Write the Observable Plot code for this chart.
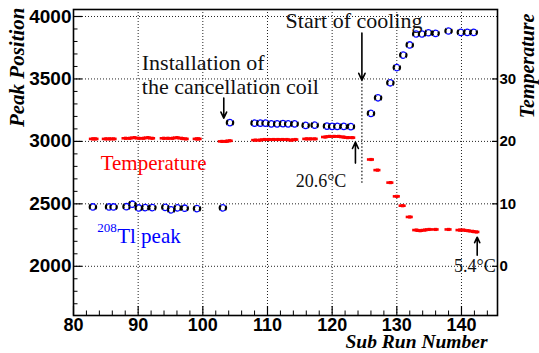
<!DOCTYPE html>
<html><head><meta charset="utf-8">
<script src="https://cdn.jsdelivr.net/npm/d3@7"></script>
<script src="https://cdn.jsdelivr.net/npm/@observablehq/plot@0.6"></script>
<style>body{margin:0;background:#fff}</style>
</head><body><div id="chart"></div>
<script>
// ---- data ----
const tlRuns = [83.0, 85.5, 86.2, 88.2, 89.1, 90.1, 91.1, 92.2, 94.2, 95.1, 96.1, 97.2, 99.1, 103.1,
  104.2, 108.0, 108.9, 109.7, 110.6, 111.5, 112.4, 113.2, 114.2, 115.9, 117.3, 119.2, 120.0, 120.8, 121.8, 122.9,
  126.0, 127.1, 129.0, 130.0, 131.0, 132.0, 133.0, 133.9, 134.9, 136.0, 138.0, 139.9, 140.9, 141.9];
const tlPeaks = [2475, 2475, 2475, 2477, 2497, 2467, 2470, 2470, 2472, 2452, 2468, 2465, 2462, 2468,
  3150, 3146, 3146, 3146, 3140, 3140, 3142, 3140, 3140, 3128, 3130, 3122, 3120, 3120, 3120, 3118,
  3224, 3349, 3469, 3591, 3691, 3772, 3860, 3860, 3870, 3865, 3884, 3873, 3873, 3873];

const tempRuns = [83.0, 83.4, 85.0, 85.6, 86.2, 88.05, 88.7, 89.4, 90.1, 90.8, 91.5, 92.15,
  93.95, 94.6, 95.3, 96.0, 96.7, 97.35, 99.05, 99.35, 102.95, 103.6, 104.15,
  108.1, 108.8, 109.5, 110.2, 110.9, 111.6, 112.3, 113.0, 113.7, 114.3, 116.0, 116.6, 117.3,
  118.9, 119.6, 120.3, 121.0, 121.7, 122.4, 123.1,
  126.0, 127.0, 129.0, 130.0, 130.9, 132.0, 133.0, 133.6, 134.3, 135.0, 136.0, 138.0,
  139.7, 140.3, 141.0, 141.7, 142.3];
const temps = [20.4, 20.4, 20.4, 20.4, 20.4, 20.5, 20.5, 20.6, 20.5, 20.5, 20.6, 20.5,
  20.5, 20.5, 20.5, 20.6, 20.5, 20.4, 20.4, 20.4, 20.0, 20.0, 20.1,
  20.2, 20.2, 20.3, 20.3, 20.3, 20.3, 20.3, 20.3, 20.2, 20.3, 20.4, 20.4, 20.4,
  20.7, 20.8, 20.8, 20.8, 20.7, 20.6, 20.6,
  17.1, 15.4, 13.4, 11.2, 9.7, 7.9, 5.8, 5.7, 5.8, 5.9, 5.9, 5.9,
  5.8, 5.8, 5.7, 5.6, 5.5];

const xTicks = [80, 90, 100, 110, 120, 130, 140];
const yTicks = [2000, 2500, 3000, 3500, 4000];
const tempTicks = [0, 10, 20, 30];

// annotations anchored at their left end
const noteTexts = ["Installation of", "the cancellation coil", "Start of cooling"];
const noteX = [90.56, 90.56, 112.8];
const noteY = [3630, 3435, 3964];
// annotations anchored at their right end
const tempNoteTexts = ["20.6°C", "5.4°C"];
const tempNoteX = [122.2, 145.3];
const tempNoteY = [2681, 2000];

const arrowX = [103.24, 124.6, 123.6, 142.43];
const arrowFrom = [3347, 3868, 2826, 2088];
const arrowTo = [3186, 3491, 2994, 2233];
const coolingRun = 124.6, coolingLineTop = 3491, coolingLineBottom = 2665;

// temperature (right axis) -> peak position (left axis)
const tempToPeak = t => 2000 + 50 * t;

// ---- layout ----
const W = 539, H = 353, mL = 73, mR = 42, mT = 9, mB = 38;
const X_DOMAIN = [80, 145.57], Y_DOMAIN = [1606, 4056];
const xPerPx = (X_DOMAIN[1] - X_DOMAIN[0]) / (W - mL - mR);
const yPerPx = (Y_DOMAIN[1] - Y_DOMAIN[0]) / (H - mT - mB);

const tlRows = tlRuns.map((r, i) => ({run: r, peak: tlPeaks[i]}));
const tempRows = tempRuns.map((r, i) => ({run: r, T: temps[i]}));
const noteRows = noteTexts.map((t, i) => ({t, x: noteX[i], y: noteY[i]}));
const tempNoteRows = tempNoteTexts.map((t, i) => ({t, x: tempNoteX[i], y: tempNoteY[i]}));
const arrowRows = arrowX.map((x, i) => ({x, y1: arrowFrom[i], y2: arrowTo[i]}));

const xMinor = d3.range(82, 146, 2).filter(d => d % 10 !== 0);
const yMinor = d3.range(1700, 4100, 100).filter(d => d % 500 !== 0);

const sans = "'Liberation Sans', Arial, sans-serif";
const serif = "'Liberation Serif', 'Times New Roman', serif";
const grid = {stroke: "#222", strokeWidth: 1, strokeDasharray: "1,2"};

const circ = 2 * Math.PI * 3.2, q = circ / 4;

const chart = Plot.plot({
  width: W, height: H,
  marginLeft: mL, marginRight: mR, marginTop: mT, marginBottom: mB,
  x: {domain: X_DOMAIN, axis: null},
  y: {domain: Y_DOMAIN, axis: null},
  style: {background: "white"},
  marks: [
    Plot.ruleX(xTicks.filter(d => d > X_DOMAIN[0]), grid),
    Plot.ruleY(yTicks, grid),
    Plot.ruleX([coolingRun], {y1: coolingLineBottom, y2: coolingLineTop, stroke: "#111", strokeWidth: 1.2, strokeDasharray: "1.5,2"}),
    // temperature markers
    Plot.ruleY(tempRows, {x1: d => d.run - 0.55, x2: d => d.run + 0.55, y: d => tempToPeak(d.T), stroke: "#ff0000", strokeWidth: 2.6}),
    Plot.dot(tempRows, {x: "run", y: d => tempToPeak(d.T), symbol: "square", r: 1.8, fill: "#ff0000"}),
    // Tl peak markers
    Plot.dot(tlRows, {x: "run", y: "peak", r: 3.2, fill: "white", stroke: "black", strokeWidth: 2.2,
      strokeDasharray: `${q} ${q}`, strokeDashoffset: q / 2}),
    Plot.dot(tlRows, {x: "run", y: "peak", r: 3.2, fill: "none", stroke: "#0000ff", strokeWidth: 1.3,
      strokeDasharray: `${q} ${q}`, strokeDashoffset: q * 1.5}),
    // arrows
    Plot.arrow(arrowRows, {x: "x", y1: "y1", y2: "y2", stroke: "black", strokeWidth: 1.6, headLength: 7, headAngle: 50}),
    // annotations
    Plot.text(noteRows, {x: "x", y: "y", text: "t", textAnchor: "start", fontSize: 22, fontFamily: serif, fill: "#111"}),
    Plot.text(tempNoteRows, {x: "x", y: "y", text: "t", textAnchor: "end", fontSize: 18, fontFamily: serif, fill: "#111"}),
    Plot.text(["Temperature"], {x: 84.2, y: 2823, textAnchor: "start", fontSize: 21, fontFamily: serif, fill: "#ff0000"}),
    Plot.text(["208"], {x: 83.66, y: 2309, textAnchor: "start", fontSize: 13, fontFamily: serif, fill: "#0000ff"}),
    Plot.text(["Tl peak"], {x: 86.76, y: 2240, textAnchor: "start", fontSize: 21, fontFamily: serif, fill: "#0000ff"}),
    // ticks
    Plot.ruleX(xTicks, {y1: Y_DOMAIN[0], y2: Y_DOMAIN[0] + 9 * yPerPx, stroke: "black", strokeWidth: 1.2}),
    Plot.ruleX(xMinor, {y1: Y_DOMAIN[0], y2: Y_DOMAIN[0] + 4.5 * yPerPx, stroke: "black", strokeWidth: 1}),
    Plot.ruleY(yTicks, {x1: X_DOMAIN[0], x2: X_DOMAIN[0] + 9 * xPerPx, stroke: "black", strokeWidth: 1.2}),
    Plot.ruleY(yMinor, {x1: X_DOMAIN[0], x2: X_DOMAIN[0] + 4.5 * xPerPx, stroke: "black", strokeWidth: 1}),
    Plot.ruleY(tempTicks, {y: tempToPeak, x1: X_DOMAIN[1] - 5 * xPerPx, x2: X_DOMAIN[1], stroke: "black", strokeWidth: 1.2}),
    Plot.frame({stroke: "black", strokeWidth: 1.6}),
    // tick labels
    Plot.text(yTicks, {frameAnchor: "left", y: d => d, text: d => String(d), textAnchor: "end", lineAnchor: "middle", dx: -2, fontSize: 19, fontWeight: "bold", fontFamily: sans, fill: "black"}),
    Plot.text(tempTicks, {frameAnchor: "right", y: tempToPeak, text: d => String(d), textAnchor: "start", lineAnchor: "middle", dx: 2, fontSize: 15, fontWeight: "bold", fontFamily: sans, fill: "black"}),
    Plot.text(xTicks, {frameAnchor: "bottom", x: d => d, text: d => String(d), lineAnchor: "middle", dy: 9.5, fontSize: 18, fontWeight: "bold", fontFamily: sans, fill: "black"}),
    // axis titles
    Plot.text(["Peak Position"], {frameAnchor: "top-left", rotate: -90, textAnchor: "end", lineAnchor: "middle", dx: -56, dy: -2, fontSize: 21, fontStyle: "italic", fontWeight: "bold", fontFamily: serif, fill: "black"}),
    Plot.text(["Temperature"], {frameAnchor: "top-right", rotate: -90, textAnchor: "end", lineAnchor: "middle", dx: 30, dy: 4, fontSize: 20, fontStyle: "italic", fontWeight: "bold", fontFamily: serif, fill: "black"}),
    Plot.text(["Sub Run Number"], {frameAnchor: "bottom-right", textAnchor: "end", lineAnchor: "middle", dx: -10, dy: 26, fontSize: 19.5, fontStyle: "italic", fontWeight: "bold", fontFamily: serif, fill: "black"})
  ]
});
document.getElementById("chart").appendChild(chart);
</script>
</body></html>
